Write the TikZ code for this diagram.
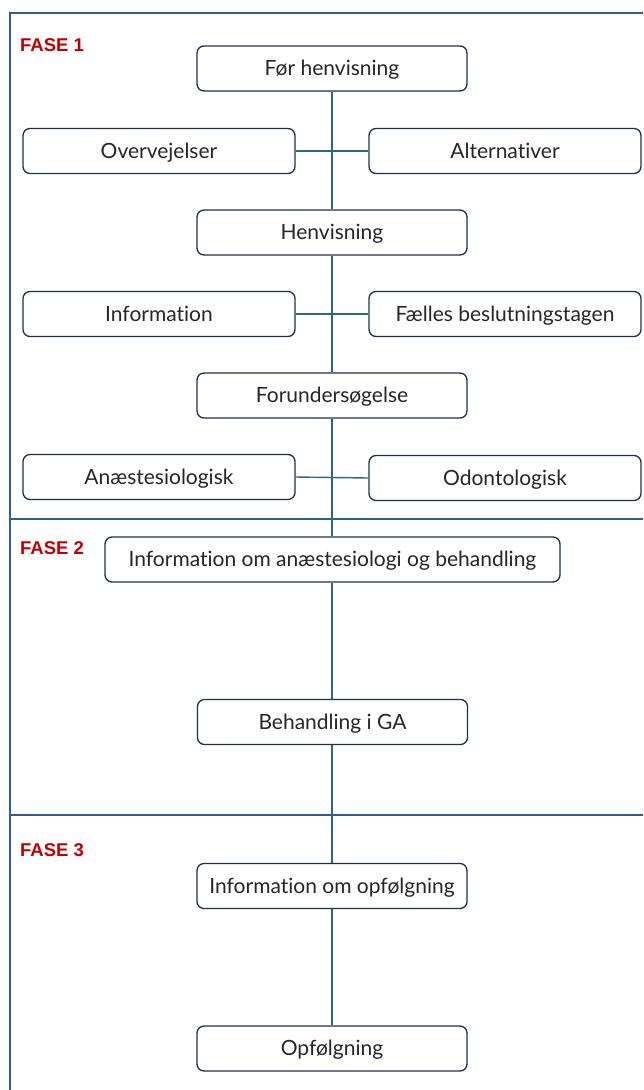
\documentclass[tikz,border=0pt]{standalone}
\usepackage{fontspec}
\setmainfont{Lato}[Ligatures={NoCommon}]
\newfontfamily\fasefont{Liberation Sans}
\begin{document}
\begin{tikzpicture}[x=1pt,y=-1pt,
  box/.style={draw=boxline,line width=1.3pt,rounded corners=7pt,fill=white,
    minimum height=45pt,inner sep=0pt,text height=15pt,text depth=1pt,text=black!85,font=\fontsize{21}{24}\selectfont},
  wbox/.style={box,minimum width=270pt},
  conn/.style={draw=connline,line width=1.4pt},
  frame/.style={draw=frameblue,line width=2.8pt},
  fase/.style={text=faseRed,font=\fasefont\bfseries\fontsize{18.5}{20}\selectfont,anchor=west,inner sep=0pt}]
\definecolor{boxline}{HTML}{1E3246}
\definecolor{connline}{HTML}{2D6786}
\definecolor{frameblue}{HTML}{2E5E98}
\definecolor{faseRed}{HTML}{C00000}
\useasboundingbox (0,0) rectangle (643,1090);
% frame
\draw[frame] (10,1090) -- (10,13) -- (643,13);
\draw[frame] (10,519) -- (643,519);
\draw[frame] (10,815) -- (643,815);
% labels
\node[fase] (f1) at (20,45) {FASE 1};
\node[fase] (f2) at (20,548) {FASE 2};
\node[fase] (f3) at (20,850) {FASE 3};
% nodes
\node[wbox] (fh) at (332,68.5) {Før henvisning};
\node[box,minimum width=272pt] (ov) at (159,151) {Overvejelser};
\node[box,minimum width=272pt] (alt) at (505,151) {Alternativer};
\node[wbox] (hv) at (332,232.5) {Henvisning};
\node[box,minimum width=272pt] (inf) at (159,314) {Information};
\node[box,minimum width=272pt] (fb) at (505,314) {Fælles beslutningstagen};
\node[wbox] (fu) at (332,395.5) {Forundersøgelse};
\node[box,minimum width=272pt] (an) at (159,477) {Anæstesiologisk};
\node[box,minimum width=272pt] (od) at (505,478) {Odontologisk};
\node[box,minimum width=455pt] (ia) at (332.5,559.5) {Information om anæstesiologi og behandling};
\node[wbox] (bg) at (332.5,722) {Behandling i GA};
\node[wbox] (io) at (332,886) {Information om opfølgning};
\node[wbox] (op) at (332,1048.5) {Opfølgning};
% connectors
\path[conn] (fh.south) -- (hv.north);
\path[conn] (hv.south) -- (fu.north);
\path[conn] (fu.south) -- (fu.south |- ia.north);
\path[conn] (ia.south -| fu.south) -- (bg.north -| fu.south);
\path[conn] (bg.south -| fu.south) -- (io.north);
\path[conn] (io.south) -- (op.north);
\path[conn] (ov.east) -- (alt.west);
\path[conn] (inf.east) -- (fb.west);
\path[conn] (an.east) -- (od.west);
\end{tikzpicture}
\end{document}
